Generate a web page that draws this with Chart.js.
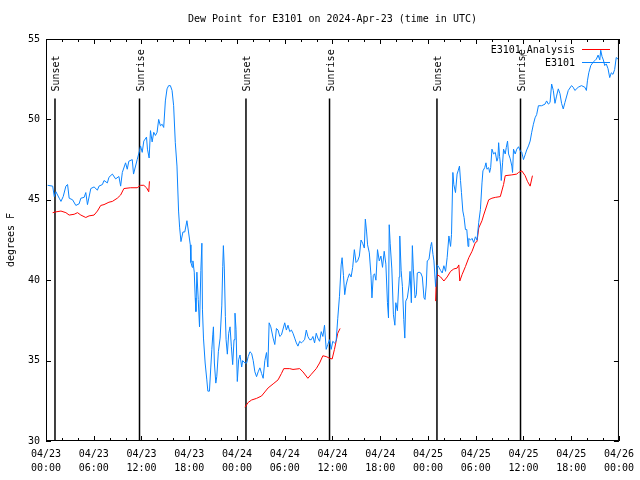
<!DOCTYPE html>
<html><head><meta charset="utf-8">
<script src="https://cdn.jsdelivr.net/npm/chart.js@4/dist/chart.umd.min.js"></script>
<style>html,body{margin:0;padding:0;background:#fff}canvas{display:block}</style>
</head><body>
<canvas id="c" width="640" height="480"></canvas>
<script>
const chartTitle = 'Dew Point for E3101 on 2024-Apr-23 (time in UTC)';
const yAxisTitle = 'degrees F';
const seriesNames = ['E3101_Analysis', 'E3101'];
const xTickLabels = [['04/23','00:00'],['04/23','06:00'],['04/23','12:00'],['04/23','18:00'],
  ['04/24','00:00'],['04/24','06:00'],['04/24','12:00'],['04/24','18:00'],
  ['04/25','00:00'],['04/25','06:00'],['04/25','12:00'],['04/25','18:00'],['04/26','00:00']];
const sunHours = [1.13, 11.75, 25.13, 35.63, 49.13, 59.63];
const sunLabels = ['Sunset','Sunrise','Sunset','Sunrise','Sunset','Sunrise'];
const sunLineTop = 51.3;

// E3101 observations (hours since 04/23 00:00 UTC, deg F)
const blueHours = [0.21,0.84,1.04,1.25,1.66,1.88,2.16,2.5,2.71,2.91,3.34,3.75,4.16,4.38,4.79,5.0,5.21,5.63,6.04,6.46,6.66,7.09,7.29,7.71,7.91,8.34,8.75,9.16,9.38,9.59,10.0,10.21,10.41,10.84,11.0,11.46,11.75,11.88,12.09,12.29,12.63,12.75,12.96,13.13,13.34,13.54,13.75,13.96,14.16,14.38,14.59,14.79,15.0,15.21,15.41,15.63,15.84,16.04,16.25,16.46,16.66,16.79,16.96,17.21,17.44,17.71,17.91,18.13,18.21,18.38,18.46,18.63,18.75,18.84,18.96,19.13,19.29,19.46,19.59,19.66,19.79,20.0,20.21,20.34,20.54,20.71,20.84,20.96,21.04,21.16,21.34,21.46,21.66,21.88,22.09,22.21,22.29,22.41,22.54,22.63,22.79,22.96,23.13,23.29,23.46,23.63,23.75,23.88,24.04,24.21,24.38,24.59,24.71,25.0,25.21,25.41,25.63,25.84,26.04,26.25,26.46,26.66,26.88,27.09,27.29,27.5,27.71,27.88,28.04,28.25,28.54,28.75,28.96,29.16,29.38,29.59,30.0,30.21,30.41,30.63,30.84,31.04,31.25,31.46,31.66,31.88,32.09,32.29,32.5,32.71,32.91,33.13,33.34,33.54,33.75,33.96,34.16,34.38,34.59,34.79,35.0,35.21,35.41,35.63,35.84,36.04,36.25,36.46,36.66,36.88,37.09,37.21,37.38,37.54,37.71,37.91,38.13,38.34,38.54,38.75,38.96,39.16,39.38,39.59,39.79,40.0,40.13,40.29,40.41,40.63,40.84,40.96,41.13,41.29,41.46,41.66,41.88,42.09,42.29,42.5,42.71,42.91,43.04,43.13,43.25,43.46,43.66,43.84,43.96,44.16,44.38,44.46,44.63,44.79,44.96,45.09,45.21,45.41,45.63,45.75,45.91,46.04,46.16,46.38,46.54,46.66,46.88,47.09,47.29,47.5,47.63,47.79,47.91,48.13,48.34,48.46,48.63,48.75,48.96,49.16,49.38,49.59,49.79,50.0,50.21,50.41,50.63,50.84,50.96,51.13,51.25,51.46,51.66,51.79,51.96,52.09,52.21,52.38,52.54,52.71,52.88,53.04,53.13,53.34,53.54,53.75,53.96,54.16,54.38,54.59,54.79,54.91,55.13,55.29,55.41,55.63,55.75,55.88,56.04,56.25,56.46,56.66,56.79,56.88,57.0,57.13,57.21,57.38,57.5,57.71,57.84,58.0,58.13,58.34,58.54,58.63,58.75,58.96,59.16,59.38,59.59,59.79,60.0,60.21,60.41,60.63,60.84,61.04,61.25,61.46,61.66,61.88,62.29,62.71,62.91,63.13,63.34,63.54,63.75,63.96,64.16,64.38,64.59,64.79,65.0,65.21,65.63,66.04,66.25,66.46,66.88,67.29,67.71,67.91,68.04,68.21,68.46,68.75,68.96,69.16,69.38,69.59,69.71,69.88,70.04,70.21,70.41,70.63,70.84,71.04,71.25,71.46,71.66,71.88];
const blueValues = [45.9,45.85,45.2,45.5,45.1,44.9,45.2,45.85,45.95,45.1,45.0,44.65,44.75,45.1,45.15,45.45,44.7,45.7,45.8,45.6,45.85,45.95,46.2,46.05,46.4,46.6,46.3,46.45,45.85,46.7,47.3,46.9,47.4,47.5,46.6,47.5,48.05,48.35,47.95,48.65,48.9,48.15,47.6,49.3,48.6,49.2,49.0,49.2,50.0,49.6,49.7,49.5,51.15,51.9,52.1,52.1,51.8,50.85,48.55,47.1,44.3,43.3,42.4,43.0,43.0,43.7,43.0,42.2,41.1,40.8,41.2,40.5,38.9,38.05,40.5,38.8,37.1,40.6,42.3,38.2,36.4,34.85,33.8,33.1,33.1,34.6,35.7,36.6,37.1,34.85,33.6,34.0,35.55,36.4,38.4,40.85,42.15,40.7,37.75,36.3,35.4,36.7,37.1,35.9,34.75,36.3,37.95,36.95,33.7,35.05,35.35,34.6,35.0,34.85,34.85,35.25,35.55,35.45,35.0,34.3,34.0,34.3,34.55,34.2,33.9,35.0,35.5,34.6,37.35,37.1,36.4,36.0,37.0,36.9,36.5,36.6,37.35,36.9,37.2,36.8,36.9,36.7,36.4,36.1,35.9,36.2,36.1,36.2,36.3,36.9,36.5,36.3,36.3,36.5,36.1,36.7,36.4,36.2,36.8,36.5,37.2,35.7,36.0,36.3,35.7,36.2,36.1,36.2,37.6,39.0,40.95,41.4,40.3,39.1,39.7,40.1,40.4,40.2,40.8,41.9,41.1,41.2,41.5,42.5,42.3,42.0,43.8,43.0,42.2,41.7,40.3,38.9,40.3,40.4,40.0,41.9,41.2,41.5,40.8,41.8,41.0,38.6,37.65,43.45,42.3,40.7,37.85,37.2,38.6,38.1,40.2,42.75,40.6,39.6,37.55,36.4,38.7,38.9,39.7,40.55,38.6,42.15,40.7,38.9,39.1,40.45,40.5,40.45,40.2,38.9,38.8,39.7,41.2,41.3,42.1,42.35,41.6,41.2,39.6,40.95,40.8,40.6,40.45,40.9,40.55,41.4,42.75,42.1,42.85,46.7,45.95,45.45,46.6,46.8,47.1,46.2,45.45,44.3,43.9,43.15,43.15,42.1,42.6,42.5,42.6,42.35,42.7,42.5,43.6,44.4,46.05,46.8,47.0,47.3,46.9,47.0,46.7,47.0,48.15,47.85,47.95,47.4,47.6,48.55,47.7,47.1,46.2,47.3,48.15,47.85,48.25,48.65,47.85,47.55,47.1,46.7,48.15,47.85,48.15,48.3,48.05,47.95,47.5,47.8,48.1,48.35,48.65,49.2,49.7,50.1,50.3,50.85,50.85,50.95,51.15,50.95,51.05,52.2,51.8,51.0,51.45,51.9,51.6,51.0,50.65,51.05,51.8,52.1,52.0,51.8,52.0,52.1,52.0,51.8,52.4,52.9,53.35,53.55,53.65,53.75,54.0,53.7,54.3,53.9,53.7,53.35,53.45,53.15,52.6,52.9,52.8,53.1,53.85,53.75];

// E3101_Analysis (null = gap)
const redHours = [0.84,1.25,1.88,2.5,2.91,3.54,3.96,4.38,5.0,5.41,6.04,6.46,6.88,7.29,7.91,8.34,8.96,9.38,9.79,10.63,11.46,11.88,12.29,12.63,12.91,13.0,
  19.0,
  25.0,25.41,25.84,26.46,27.09,27.5,27.91,28.54,29.16,29.59,29.88,30.63,31.04,31.88,32.29,32.91,33.34,33.96,34.38,34.79,35.21,35.63,35.96,36.25,36.46,36.66,36.96,
  43.0,
  48.96,49.04,49.16,49.59,50.0,50.41,50.84,51.25,51.66,51.88,52.0,52.29,52.71,53.13,53.54,53.96,54.16,54.38,54.79,55.0,55.63,56.04,56.46,57.09,57.5,57.71,58.54,59.16,59.38,59.79,60.21,60.5,60.84,61.13];
const redValues = [44.2,44.25,44.3,44.2,44.05,44.1,44.2,44.05,43.9,44.0,44.05,44.3,44.65,44.7,44.85,44.9,45.1,45.3,45.7,45.75,45.75,45.9,45.9,45.75,45.5,46.15,
  null,
  32.1,32.4,32.55,32.65,32.8,33.05,33.3,33.55,33.8,34.2,34.5,34.5,34.45,34.5,34.3,33.9,34.15,34.5,34.85,35.3,35.25,35.15,35.1,35.7,36.2,36.7,37.0,
  null,
  38.7,40.0,40.35,40.2,39.95,40.2,40.55,40.7,40.75,40.95,39.95,40.35,40.85,41.4,41.8,42.35,42.4,43.25,43.7,44.05,45.0,45.1,45.15,45.2,45.95,46.5,46.55,46.6,46.7,46.8,46.5,46.15,45.85,46.5];

const BLUE = 'rgb(10,132,255)';
const RED = 'rgb(255,0,0)';
const FONT = '10px "DejaVu Sans Mono", "Liberation Mono", monospace';

const decor = {
  id: 'decor',
  beforeDatasetsDraw(chart) {
    const {ctx, chartArea: a, scales: {x, y}} = chart;
    ctx.save();
    ctx.strokeStyle = '#000';
    ctx.lineWidth = 1.5;
    sunHours.forEach(h => {
      const px = x.getPixelForValue(h);
      ctx.beginPath();
      ctx.moveTo(px, y.getPixelForValue(sunLineTop));
      ctx.lineTo(px, a.bottom);
      ctx.stroke();
    });
    ctx.restore();
  },
  afterDraw(chart) {
    const {ctx, chartArea: a, scales: {x, y}} = chart;
    ctx.save();
    // frame
    ctx.strokeStyle = '#000';
    ctx.lineWidth = 1;
    ctx.strokeRect(a.left + 0.5, a.top + 0.5, a.right - a.left - 1, a.bottom - a.top - 1);
    // x ticks (major 6h, minor 2h), inward top and bottom
    ctx.beginPath();
    for (let h = 0; h <= 72; h += 2) {
      const px = Math.round(x.getPixelForValue(h)) + 0.5;
      const len = (h % 6 === 0) ? 5 : 3;
      ctx.moveTo(px, a.bottom); ctx.lineTo(px, a.bottom - len);
      ctx.moveTo(px, a.top); ctx.lineTo(px, a.top + len);
    }
    for (let v = 30; v <= 55; v += 5) {
      const py = Math.round(y.getPixelForValue(v)) + 0.5;
      ctx.moveTo(a.left, py); ctx.lineTo(a.left + 5, py);
      ctx.moveTo(a.right, py); ctx.lineTo(a.right - 5, py);
    }
    ctx.stroke();
    ctx.fillStyle = '#000';
    ctx.font = FONT;
    // title
    ctx.textAlign = 'center';
    ctx.textBaseline = 'middle';
    ctx.fillText(chartTitle, (a.left + a.right) / 2, 19);
    // y axis title
    ctx.save();
    ctx.translate(11, (a.top + a.bottom) / 2);
    ctx.rotate(-Math.PI / 2);
    ctx.fillText(yAxisTitle, 0, 0);
    ctx.restore();
    // sun labels
    sunHours.forEach((h, i) => {
      const px = x.getPixelForValue(h);
      ctx.save();
      ctx.translate(px + 1.5, y.getPixelForValue(sunLineTop) - 7);
      ctx.rotate(-Math.PI / 2);
      ctx.textAlign = 'left';
      ctx.textBaseline = 'middle';
      ctx.fillText(sunLabels[i], 0, 0);
      ctx.restore();
    });
    // legend
    const colors = [RED, BLUE];
    ctx.textAlign = 'right';
    ctx.textBaseline = 'middle';
    seriesNames.forEach((n, i) => {
      const yy = 50 + i * 13;
      ctx.fillStyle = '#000';
      ctx.fillText(n, 575, yy);
      ctx.strokeStyle = colors[i];
      ctx.lineWidth = 1;
      ctx.beginPath();
      ctx.moveTo(582, yy - 0.5);
      ctx.lineTo(610, yy - 0.5);
      ctx.stroke();
    });
    ctx.restore();
  }
};

new Chart(document.getElementById('c'), {
  type: 'line',
  data: {
    datasets: [
      { label: seriesNames[1], data: blueHours.map((h, i) => ({x: h, y: blueValues[i]})),
        borderColor: BLUE, borderWidth: 1, pointRadius: 0, tension: 0, fill: false },
      { label: seriesNames[0], data: redHours.map((h, i) => ({x: h, y: redValues[i]})),
        borderColor: RED, borderWidth: 1, pointRadius: 0, tension: 0, fill: false, spanGaps: false }
    ]
  },
  options: {
    responsive: false,
    devicePixelRatio: 1,
    animation: false,
    layout: { padding: { top: 39, right: 18, left: 0, bottom: 0 } },
    plugins: { legend: { display: false }, tooltip: { enabled: false }, title: { display: false } },
    scales: {
      x: {
        type: 'linear', min: 0, max: 72,
        grid: { display: false, drawTicks: false }, border: { display: false },
        ticks: { stepSize: 6, autoSkip: false, maxRotation: 0, padding: 6, color: '#000',
          font: { family: '"DejaVu Sans Mono", "Liberation Mono", monospace', size: 10, lineHeight: 1.4 },
          callback: v => xTickLabels[Math.round(v / 6)] },
        afterFit: s => { s.height = 39; }
      },
      y: {
        min: 30, max: 55,
        grid: { display: false, drawTicks: false }, border: { display: false },
        ticks: { stepSize: 5, padding: 6, color: '#000',
          font: { family: '"DejaVu Sans Mono", "Liberation Mono", monospace', size: 10 } },
        afterFit: s => { s.width = 46; }
      }
    }
  },
  plugins: [decor]
});
</script>
</body></html>
